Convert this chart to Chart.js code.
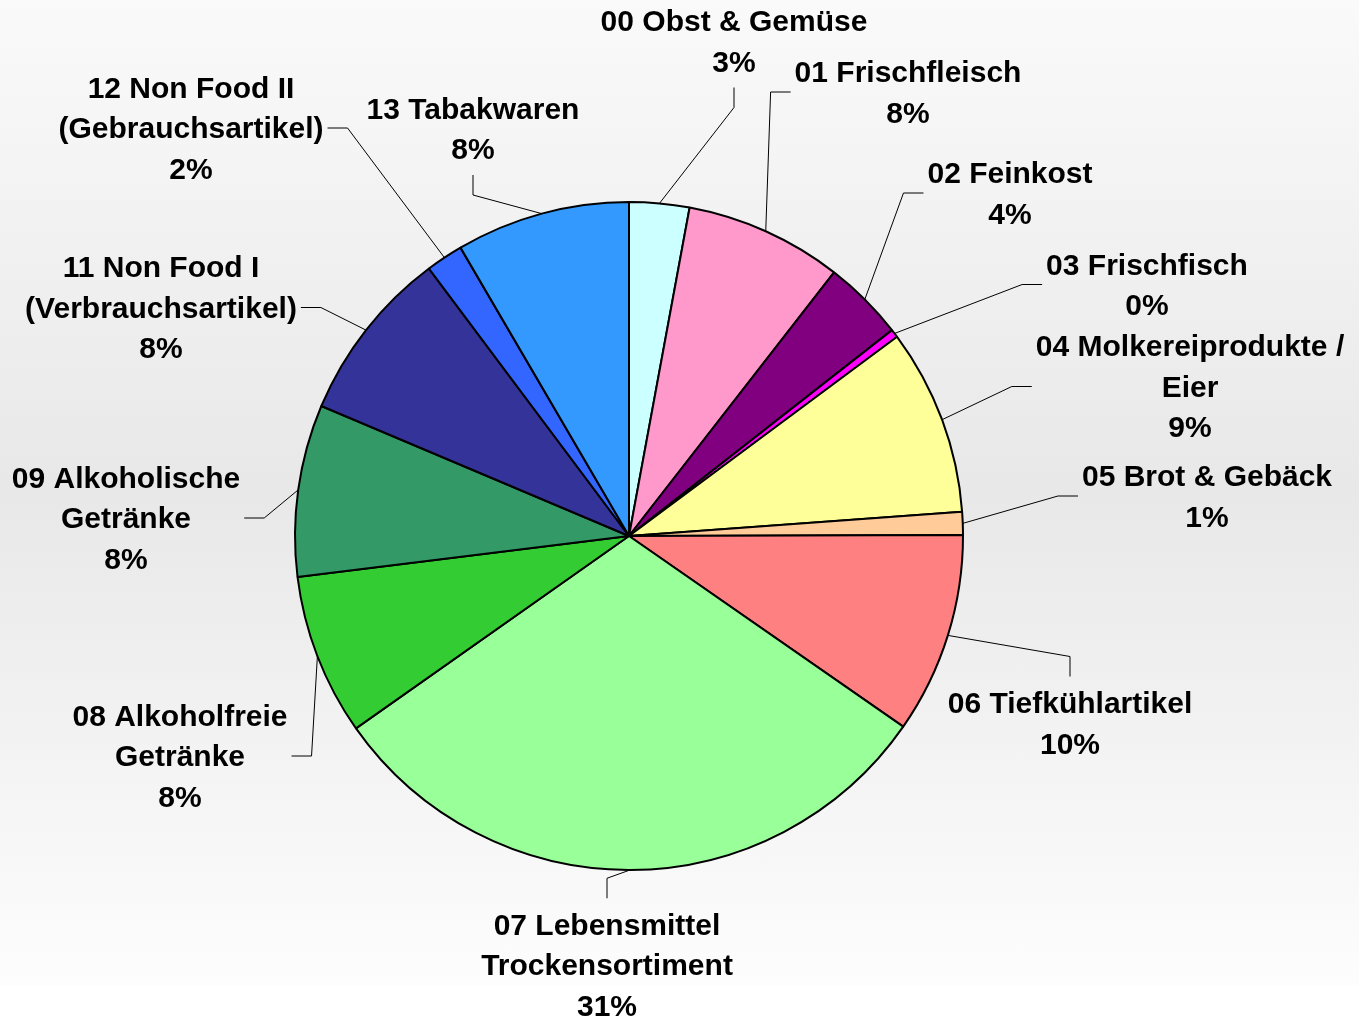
<!DOCTYPE html>
<html><head><meta charset="utf-8">
<script src="https://cdn.jsdelivr.net/npm/chart.js@4"></script>
<style>
html,body{margin:0;padding:0;width:1359px;height:1019px;overflow:hidden;
background:linear-gradient(to bottom,#fafafa 0px,#e8e8e8 490px,#fdfdfd 985px,#ffffff 986px,#ffffff 1019px);}
canvas{display:block}
</style></head><body>
<canvas id="c" width="1359" height="1019"></canvas>
<script>
// ---- data ----
const categories = [
  "00 Obst & Gemüse",
  "01 Frischfleisch",
  "02 Feinkost",
  "03 Frischfisch",
  "04 Molkereiprodukte /\nEier",
  "05 Brot & Gebäck",
  "06 Tiefkühlartikel",
  "07 Lebensmittel\nTrockensortiment",
  "08 Alkoholfreie\nGetränke",
  "09 Alkoholische\nGetränke",
  "11 Non Food I\n(Verbrauchsartikel)",
  "12 Non Food II\n(Gebrauchsartikel)",
  "13 Tabakwaren"
];
const values = [2.9, 7.6, 3.9, 0.4, 9.0, 1.1, 9.7, 30.5, 7.8, 8.3, 8.4, 1.8, 8.4];
const colors = ["#CCFFFF","#FF99CC","#800080","#FF00FF","#FFFF99","#FFCC99","#FF8080",
                "#99FF99","#33CC33","#339966","#333399","#3366FF","#3399FF"];

// ---- label layout (offset of label block centre from pie centre, and leader side) ----
const labelOffsets = [[105,-495],[279,-444],[381,-343],[518,-251.5],[561,-149.5],[578,-40],
  [441,187],[-22,429],[-449,220],[-503,-18],[-468,-228.5],[-438,-408],[-156,-407.5]];
const labelSides = ["top","right","right","right","right","right","bottom","bottom",
  "left","left","left","left","top"];
const LINE_H = 40.5;
const TEXT_SHIFT = 2;
const FONT = 'bold 30px "Liberation Sans", Arial, sans-serif';

const labelPlugin = {
  id: 'pieLabels',
  afterDatasetsDraw(chart) {
    const ctx = chart.ctx;
    const meta = chart.getDatasetMeta(0);
    const total = values.reduce((a, b) => a + b, 0);
    ctx.save();
    ctx.font = FONT;
    ctx.textAlign = 'center';
    ctx.textBaseline = 'middle';
    meta.data.forEach((arc, i) => {
      const p = arc.getProps(['x','y','startAngle','endAngle','outerRadius'], true);
      const mid = (p.startAngle + p.endAngle) / 2;
      const sx = p.x + Math.cos(mid) * p.outerRadius;
      const sy = p.y + Math.sin(mid) * p.outerRadius;
      const lines = categories[i].split('\n').concat([Math.round(values[i] / total * 100) + '%']);
      const cx = p.x + labelOffsets[i][0], cy = p.y + labelOffsets[i][1];
      const w = Math.max(...lines.map(l => ctx.measureText(l).width));
      const h = lines.length * LINE_H;
      let ex, ey, bx, by;
      switch (labelSides[i]) {
        case 'right': ex = cx - w / 2 - 4; ey = cy; bx = ex - 20; by = ey; break;
        case 'left': ex = cx + w / 2 + 4; ey = cy; bx = ex + 20; by = ey; break;
        case 'top': ex = cx; ey = cy + h / 2 + 6; bx = ex; by = ey + 20; break;
        default: ex = cx; ey = cy - h / 2 - 6; bx = ex; by = ey - 20; break;
      }
      ctx.strokeStyle = '#000';
      ctx.lineWidth = 1;
      ctx.beginPath();
      ctx.moveTo(sx, sy); ctx.lineTo(bx, by); ctx.lineTo(ex, ey);
      ctx.stroke();
      ctx.fillStyle = '#000';
      lines.forEach((l, k) => ctx.fillText(l, cx, cy - h / 2 + LINE_H * (k + 0.5) + TEXT_SHIFT));
    });
    ctx.restore();
  }
};

new Chart(document.getElementById('c'), {
  type: 'pie',
  data: {
    labels: categories,
    datasets: [{
      data: values,
      backgroundColor: colors,
      borderColor: '#000',
      borderWidth: 2,
      offset: 0,
      hoverOffset: 0
    }]
  },
  options: {
    responsive: false,
    animation: false,
    layout: { padding: { left: 294, top: 201, right: 395, bottom: 148 } },
    plugins: { legend: { display: false }, tooltip: { enabled: false } },
    events: []
  },
  plugins: [labelPlugin]
});
</script>
</body></html>
